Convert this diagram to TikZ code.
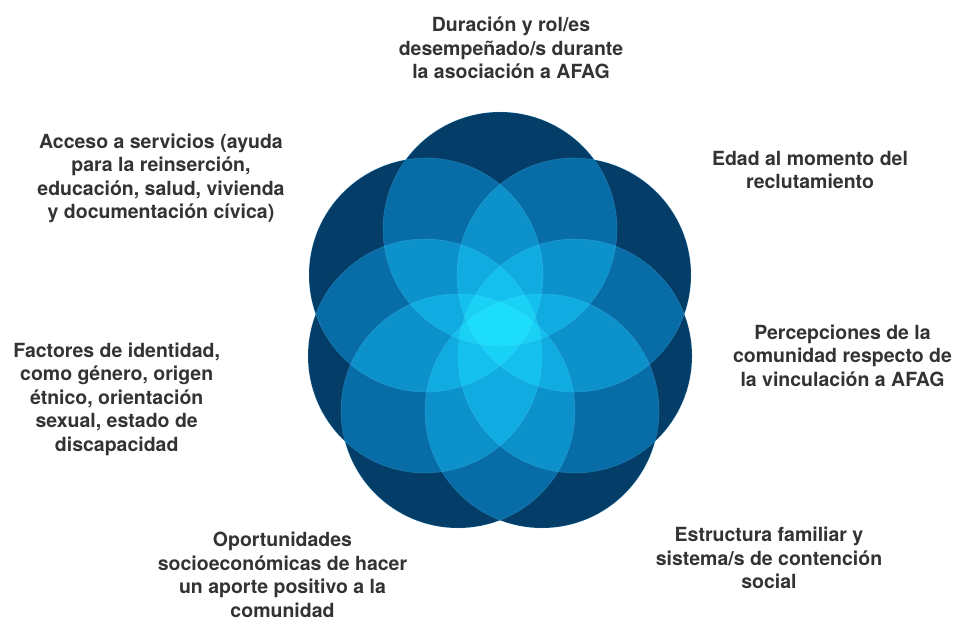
\documentclass[tikz,border=0pt]{standalone}
\usepackage{fontspec}
\setmainfont{TeX Gyre Heros}
\definecolor{petal}{RGB}{4,62,104}
\definecolor{txt}{RGB}{51,51,51}
\definecolor{rim}{RGB}{110,215,255}
\tikzset{
  petalfill/.style={fill=petal},
  rimline/.style={draw=rim, draw opacity=0.22, line width=0.6pt},
  lbl/.style={align=center, text=txt, inner sep=0pt, font=\bfseries\fontsize{19.5}{23.5}\selectfont},
}
\begin{document}
\begin{tikzpicture}[x=1pt,y=-1pt]
\useasboundingbox (0,0) rectangle (958,623);
\coordinate (cT)  at (500,229);
\coordinate (cUL) at (426,275);
\coordinate (cUR) at (574,275);
\coordinate (cL)  at (425,356);
\coordinate (cR)  at (575,356);
\coordinate (cBL) at (458,411);
\coordinate (cBR) at (542,411);
\begin{scope}[blend group=screen]
  \foreach \c in {cT,cUL,cUR,cL,cR,cBL,cBR}
    \fill[petalfill] (\c) circle[radius=117pt];
\end{scope}
\foreach \c in {cT,cUL,cUR,cL,cR,cBL,cBR}
  \draw[rimline] (\c) circle[radius=117pt];

\node[lbl] (top) at (511,47.8) {Duración y rol/es\\desempeñado/s durante\\la asociación a AFAG};
\node[lbl] (acc) at (161,178.3) {Acceso a servicios (ayuda\\para la reinserción,\\educación, salud, vivienda\\y documentación cívica)};
\node[lbl] (eda) at (810,170) {Edad al momento del\\reclutamiento};
\node[lbl] (per) at (842.5,355.6) {Percepciones de la\\comunidad respecto de\\la vinculación a AFAG};
\node[lbl] (fac) at (116.7,399) {Factores de identidad,\\como género, origen\\étnico, orientación\\sexual, estado de\\discapacidad};
\node[lbl] (opo) at (282.5,575) {Oportunidades\\socioeconómicas de hacer\\un aporte positivo a la\\comunidad};
\node[lbl] (est) at (769,557.9) {Estructura familiar y\\sistema/s de contención\\social};
\end{tikzpicture}
\end{document}
